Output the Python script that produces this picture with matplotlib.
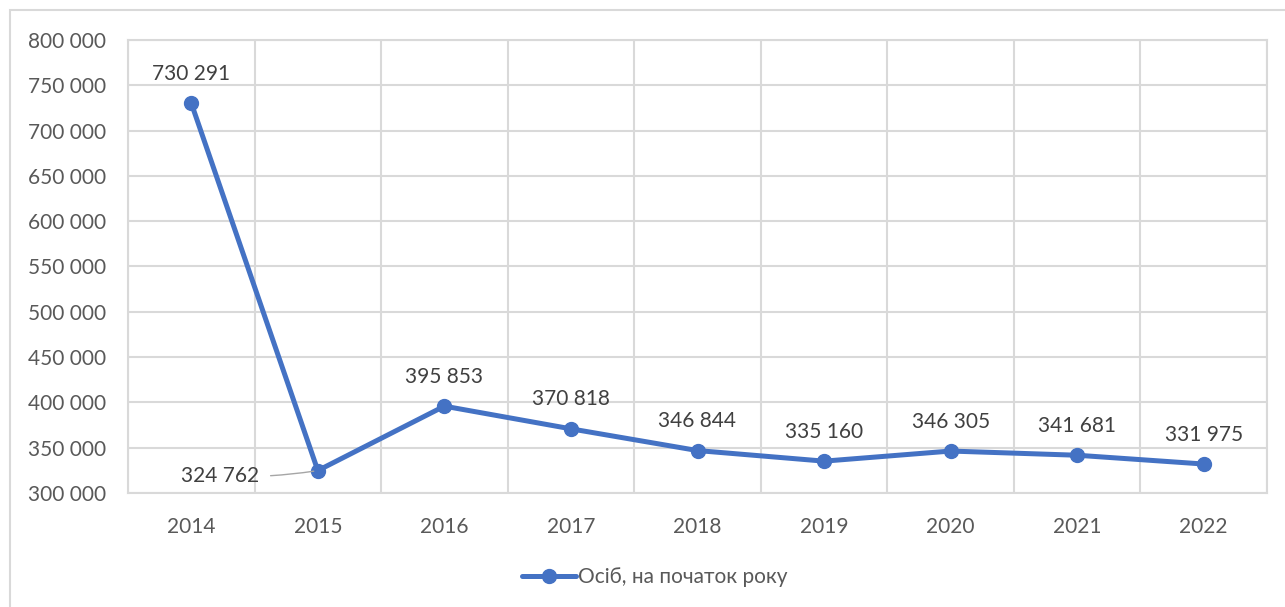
import matplotlib.pyplot as plt
from matplotlib.patches import Rectangle
from matplotlib.ticker import FuncFormatter

# Кількість осіб на початок року
years = ["2014", "2015", "2016", "2017", "2018", "2019", "2020", "2021", "2022"]
persons = [730291, 324762, 395853, 370818, 346844, 335160, 346305, 341681, 331975]

plt.rcParams['font.family'] = ['Lato', 'DejaVu Sans']
txt = "#595959"
blue = "#4472C4"

fig = plt.figure(figsize=(12.85, 6.07), dpi=100)
# outer chart frame
fig.patches.append(Rectangle((10 / 1285, -0.1), 1.2, 1 - 10 / 607 + 0.1, transform=fig.transFigure,
                             fill=False, edgecolor="#d9d9d9", linewidth=1.5))
ax = fig.add_axes([128 / 1285, 1 - 493 / 607, (1267 - 128) / 1285, (493 - 40) / 607])

x = list(range(len(years)))
ax.plot(x, persons, color=blue, linewidth=3.6, marker="o", markersize=10,
        solid_capstyle="round", label="Осіб, на початок року", zorder=3)

ax.set_xlim(-0.5, len(years) - 0.5)
ax.set_ylim(300000, 800000)
ax.set_yticks(range(300000, 800001, 50000))
ax.yaxis.set_major_formatter(FuncFormatter(lambda v, p: f"{int(v):,}".replace(",", " ")))
ax.set_xticks(x)
ax.set_xticklabels(years)
ax.set_xticks([i - 0.5 for i in range(len(years) + 1)], minor=True)

ax.grid(axis="y", which="major", color="#d9d9d9", linewidth=1.5)
ax.grid(axis="x", which="minor", color="#d9d9d9", linewidth=1.5)
ax.grid(axis="x", which="major", visible=False)
ax.set_axisbelow(True)
for s in ax.spines.values():
    s.set_color("#d9d9d9")
    s.set_linewidth(1.5)
ax.tick_params(which="both", length=0, labelsize=15, colors=txt)
ax.tick_params(axis="y", pad=16)
ax.tick_params(axis="x", pad=17)

fmt = lambda v: f"{v:,}".replace(",", " ")
for i, v in enumerate(persons):
    if i == 1:
        ax.annotate(fmt(v), xy=(i, v), xytext=(-42, -4), textcoords="offset points",
                    ha="right", va="center", fontsize=15, color="#404040",
                    arrowprops=dict(arrowstyle="-", color="#a6a6a6", lw=1,
                                    connectionstyle="arc3,rad=0.05", shrinkA=6, shrinkB=3))
    else:
        ax.annotate(fmt(v), xy=(i, v), xytext=(0, 14), textcoords="offset points",
                    ha="center", va="bottom", fontsize=15, color="#404040")

leg = fig.legend(loc="center", bbox_to_anchor=(655 / 1285, 1 - 577 / 607), frameon=False,
                 fontsize=15, handlelength=2.6, handletextpad=0.1)
for t in leg.get_texts():
    t.set_color(txt)

fig.savefig("out.png", dpi=100)
